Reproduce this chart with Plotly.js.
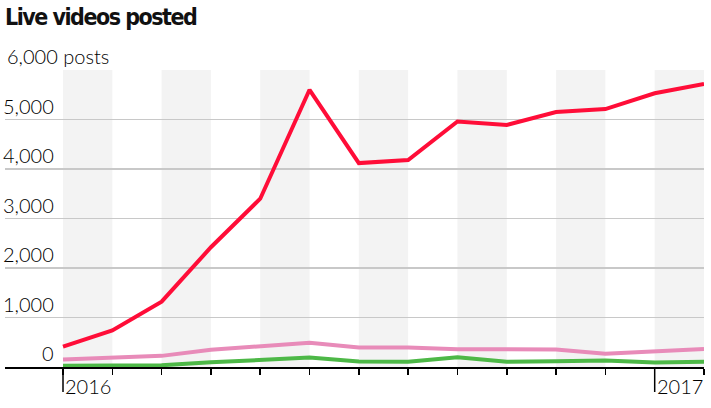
<!DOCTYPE html>
<html><head><meta charset="utf-8">
<script src="https://cdn.plot.ly/plotly-3.0.1.min.js"></script>
<style>html,body{margin:0;padding:0;background:#fff}#chart{width:711px;height:408px}
#chart .gtitle{letter-spacing:-1.5px}</style>
</head><body><div id="chart"></div>
<script>
const months = ['2016-01','2016-02','2016-03','2016-04','2016-05','2016-06','2016-07','2016-08','2016-09','2016-10','2016-11','2016-12','2017-01','2017-02'];
const seriesA = [410, 740, 1320, 2420, 3400, 5600, 4120, 4180, 4960, 4890, 5150, 5210, 5530, 5720];
const seriesB = [150, 190, 225, 350, 420, 490, 395, 395, 360, 355, 355, 270, 320, 365];
const seriesC = [25, 25, 35, 95, 135, 190, 110, 105, 195, 105, 115, 130, 90, 105];
const yTicks = [0, 1000, 2000, 3000, 4000, 5000, 6000];
const yTickText = ['0', '1,000', '2,000', '3,000', '4,000', '5,000', '6,000 posts'];
const yearLabels = ['2016', '2017'];
const yearIdx = [0, 12];

const xi = months.map((m, i) => i);
const lw = 4;
const traces = [
  {x: xi, y: seriesC, mode: 'lines', line: {color: '#4db847', width: lw}, cliponaxis: false, hoverinfo: 'skip'},
  {x: xi, y: seriesB, mode: 'lines', line: {color: '#e88bb9', width: lw}, cliponaxis: false, hoverinfo: 'skip'},
  {x: xi, y: seriesA, mode: 'lines', line: {color: '#ff0d38', width: lw}, cliponaxis: false, hoverinfo: 'skip'}
];

const shapes = [];
for (let i = 0; i < months.length - 1; i += 2) {
  shapes.push({type: 'rect', xref: 'x', yref: 'paper', x0: i, x1: i + 1, y0: 0, y1: 1,
    fillcolor: '#f3f3f3', line: {width: 0}, layer: 'below'});
}
yearIdx.forEach(i => {
  shapes.push({type: 'line', xref: 'x', yref: 'paper', x0: i, x1: i, y0: 0, y1: -25/297,
    line: {color: '#000', width: 1.5}});
});

const tickFont = {family: 'Lato, "Open Sans", sans-serif', size: 20, weight: 300, color: '#000'};
const annotations = [];
yTicks.forEach((v, k) => {
  const last = k === yTicks.length - 1;
  annotations.push({xref: 'paper', yref: 'y', x: last ? 0 : 51/699, y: v,
    xanchor: last ? 'left' : 'right', yanchor: 'bottom', yshift: 0,
    text: yTickText[k], showarrow: false, font: tickFont});
});
yearIdx.forEach((i, k) => {
  annotations.push({xref: 'x', yref: 'paper', x: i, y: 0, xanchor: 'left', yanchor: 'top',
    xshift: 0, yshift: -5, text: yearLabels[k], showarrow: false, font: tickFont});
});

const pxPerUnit = 641 / 13;
const layout = {
  width: 711, height: 408,
  margin: {l: 5, r: 7, t: 70, b: 41, pad: 0},
  paper_bgcolor: '#fff', plot_bgcolor: '#fff',
  showlegend: false,
  title: {text: '<b>Live videos posted</b>', x: 0, xref: 'paper', xanchor: 'left',
    y: 1 - 17/408, yref: 'container', yanchor: 'middle',
    font: {family: '"DejaVu Sans Condensed", "DejaVu Sans", sans-serif', size: 23, color: '#111'}},
  xaxis: {range: [-58 / pxPerUnit, 13], tickvals: xi, ticktext: xi.map(() => ''),
    ticks: 'outside', ticklen: 6, tickwidth: 1.5, tickcolor: '#000',
    showline: true, linecolor: '#000', linewidth: 1.5, showgrid: false, zeroline: false, fixedrange: true},
  yaxis: {range: [0, 6000], tickvals: yTicks, showticklabels: false, showgrid: true,
    gridcolor: '#c8c8c8', gridwidth: 1.5, zeroline: false, fixedrange: true},
  shapes: shapes,
  annotations: annotations
};
Plotly.newPlot('chart', traces, layout, {displayModeBar: false, staticPlot: true});
</script></body></html>
